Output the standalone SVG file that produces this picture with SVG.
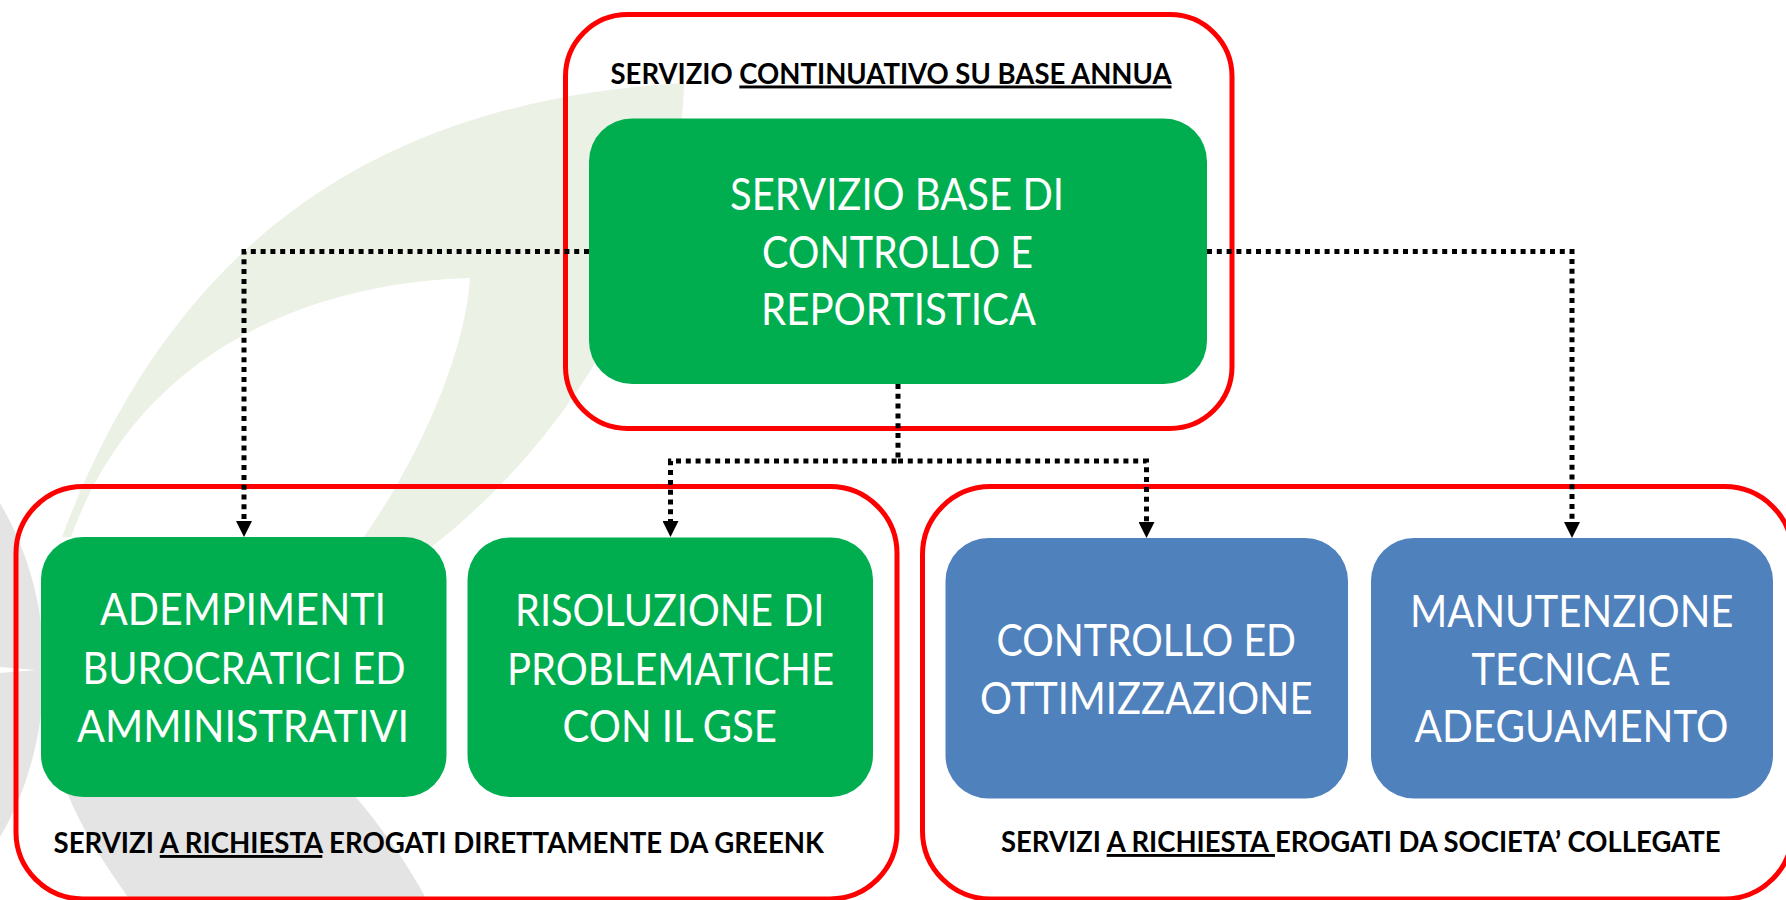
<svg xmlns="http://www.w3.org/2000/svg" width="1786" height="900" viewBox="0 0 1786 900">
<style>
.t{font-family:Lato,"Open Sans","Liberation Sans",sans-serif;font-size:43.5px;fill:#fff}
.l{font-family:Lato,"Open Sans","Liberation Sans",sans-serif;font-size:29px;font-weight:700;fill:#000}
.u{text-decoration:underline}
.g{fill:#00AE50}
.b{fill:#4F81BD}
.r{fill:none;stroke:#FF0000;stroke-width:5}
.c{fill:none;stroke:#000;stroke-width:5;stroke-dasharray:5 4.8}
</style>
<defs>
<marker id="ah" markerUnits="userSpaceOnUse" markerWidth="16" markerHeight="16" refX="0" refY="8" orient="auto"><path d="M0,0L16,8L0,16Z" fill="#000"/></marker>
</defs>
<rect width="1786" height="900" fill="#fff"/>
<g id="watermark">
<path fill="#EBF1E5" d="M684,83C385,100 175,235 62,537L71,537C140,345 320,282 470,278C466,350 420,460 358,545L430,548C570,440 680,260 684,83Z"/>
<path fill="#E5E4E5" d="M0,503C30,555 44,610 44,670C44,730 28,790 0,837Z"/>
<path fill="#fff" d="M0,667L36,670L0,673Z"/>
<path fill="#E5E4E5" d="M66,790L350,790C380,825 405,860 427,900L130,900C105,865 82,830 66,790Z"/>
</g>
<g id="group-top"><rect class="r" x="565.5" y="14.5" width="666.5" height="414" rx="62" ry="62"/></g>
<g id="group-left"><rect class="r" x="16" y="486.5" width="881" height="412.5" rx="67" ry="67"/></g>
<g id="group-right"><rect class="r" x="922.5" y="486.5" width="870" height="412.5" rx="68" ry="68"/></g>
<g id="connectors">
<path class="c" d="M589,251.5H244V521" marker-end="url(#ah)"/>
<path class="c" d="M1207,251.5H1572V522" marker-end="url(#ah)"/>
<path class="c" d="M898,384V461H670.5V521" marker-end="url(#ah)"/>
<path class="c" d="M898,461H1146.5V522" marker-end="url(#ah)"/>
</g>
<g id="label-top"><text class="l" x="610.5" y="83.5" textLength="561" lengthAdjust="spacingAndGlyphs">SERVIZIO <tspan class="u">CONTINUATIVO SU BASE ANNUA</tspan></text></g>
<g id="label-left"><text class="l" x="53.5" y="853" textLength="770.5" lengthAdjust="spacingAndGlyphs">SERVIZI <tspan class="u">A RICHIESTA</tspan> EROGATI DIRETTAMENTE DA GREENK</text></g>
<g id="label-right"><text class="l" x="1001" y="852" textLength="719.5" lengthAdjust="spacingAndGlyphs">SERVIZI <tspan class="u">A RICHIESTA </tspan>EROGATI DA SOCIETA’ COLLEGATE</text></g>
<g id="node-base"><rect class="g" x="589" y="118.5" width="618" height="265.5" rx="43" ry="43"/>
<text class="t" x="730" y="209.5" textLength="334" lengthAdjust="spacingAndGlyphs">SERVIZIO BASE DI</text>
<text class="t" x="762" y="267.5" textLength="271" lengthAdjust="spacingAndGlyphs">CONTROLLO E</text>
<text class="t" x="761" y="325" textLength="275" lengthAdjust="spacingAndGlyphs">REPORTISTICA</text></g>
<g id="node-adempimenti"><rect class="g" x="41" y="537" width="405.5" height="260" rx="42" ry="42"/>
<text class="t" x="100" y="625" textLength="286" lengthAdjust="spacingAndGlyphs">ADEMPIMENTI</text>
<text class="t" x="82.5" y="683.5" textLength="323" lengthAdjust="spacingAndGlyphs">BUROCRATICI ED</text>
<text class="t" x="77" y="741.5" textLength="332" lengthAdjust="spacingAndGlyphs">AMMINISTRATIVI</text></g>
<g id="node-risoluzione"><rect class="g" x="467.5" y="537.5" width="405.5" height="259.5" rx="42" ry="42"/>
<text class="t" x="515" y="626" textLength="309.5" lengthAdjust="spacingAndGlyphs">RISOLUZIONE DI</text>
<text class="t" x="507" y="684.5" textLength="327" lengthAdjust="spacingAndGlyphs">PROBLEMATICHE</text>
<text class="t" x="562.5" y="742" textLength="214.5" lengthAdjust="spacingAndGlyphs">CON IL GSE</text></g>
<g id="node-controllo"><rect class="b" x="945.5" y="538" width="402.5" height="260.5" rx="43" ry="43"/>
<text class="t" x="996.5" y="656" textLength="299.5" lengthAdjust="spacingAndGlyphs">CONTROLLO ED</text>
<text class="t" x="980" y="714" textLength="332.5" lengthAdjust="spacingAndGlyphs">OTTIMIZZAZIONE</text></g>
<g id="node-manutenzione"><rect class="b" x="1371" y="538" width="402" height="260.5" rx="43" ry="43"/>
<text class="t" x="1410" y="627" textLength="323.5" lengthAdjust="spacingAndGlyphs">MANUTENZIONE</text>
<text class="t" x="1471.5" y="684.5" textLength="199.5" lengthAdjust="spacingAndGlyphs">TECNICA E</text>
<text class="t" x="1414.5" y="742" textLength="314" lengthAdjust="spacingAndGlyphs">ADEGUAMENTO</text></g>
</svg>
